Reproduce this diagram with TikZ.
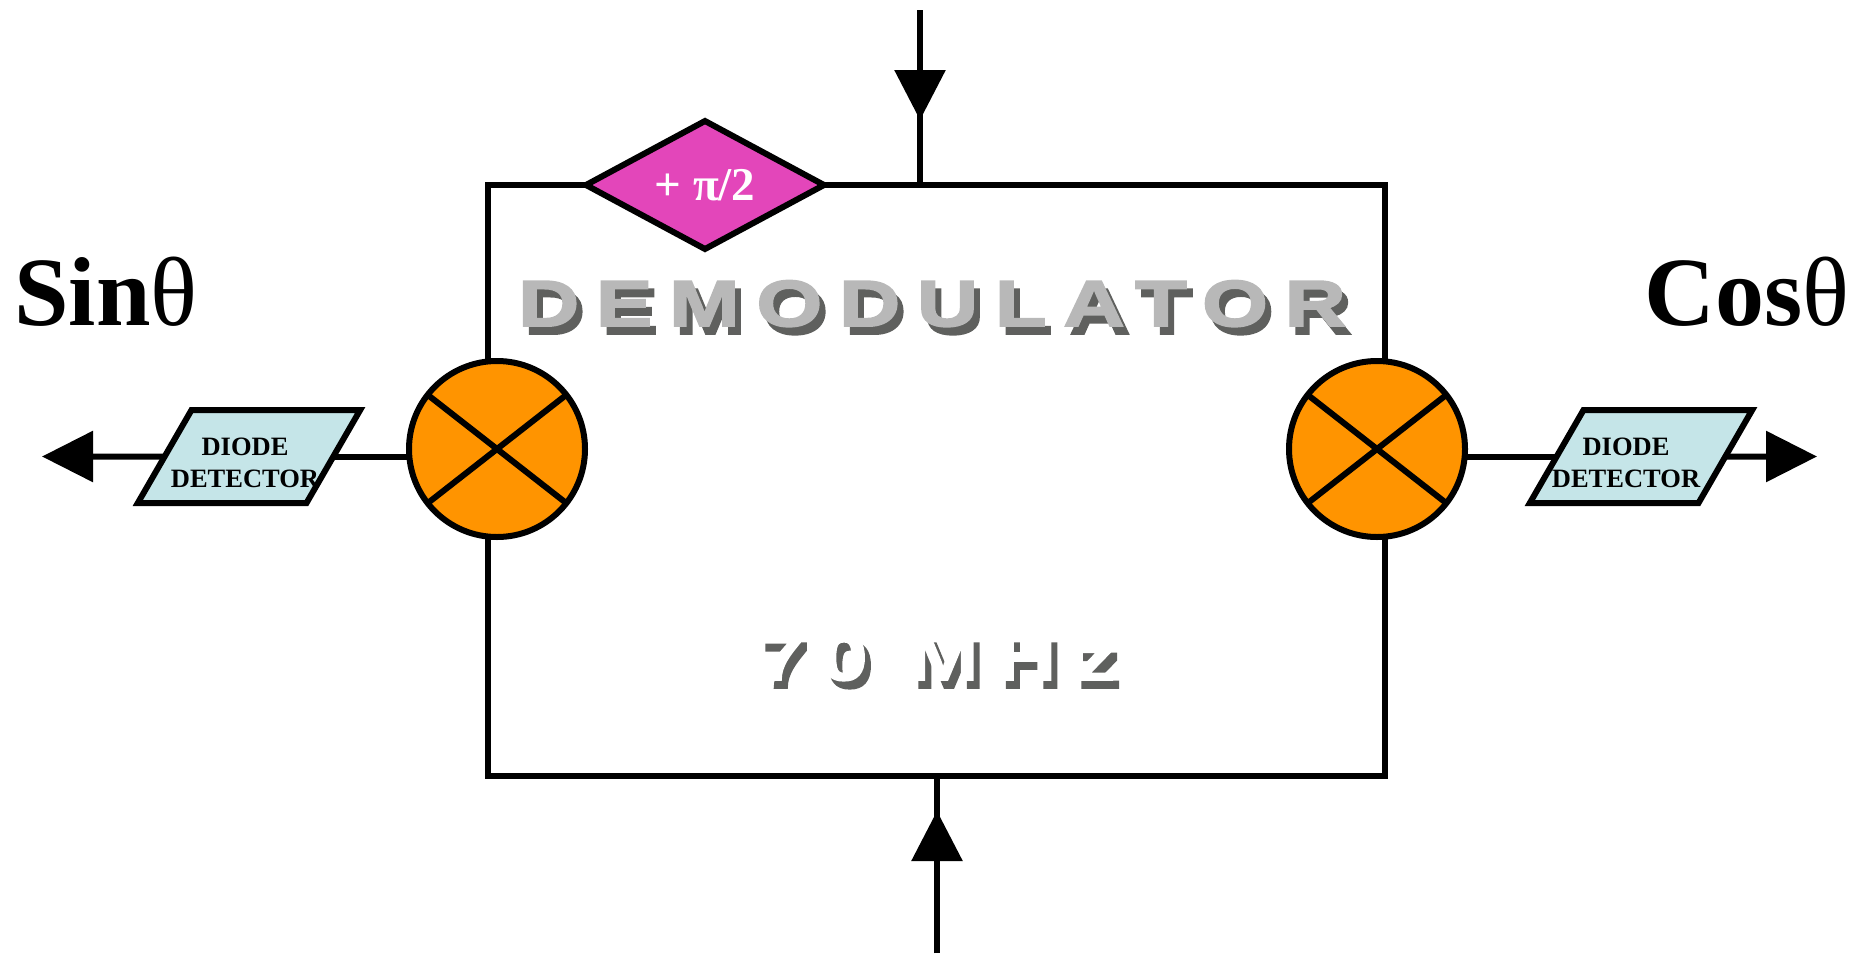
\documentclass[tikz,border=0pt]{standalone}
\usepackage{fontspec}
\setmainfont{Liberation Serif}
\newfontfamily\wordfont[FakeStretch=1.3,FakeBold=3,LetterSpace=26]{Liberation Sans Bold}
\usetikzlibrary{calc,arrows.meta,shapes.geometric}
\definecolor{mixorange}{HTML}{FF9400}
\definecolor{phasepink}{HTML}{E346BA}
\definecolor{detblue}{HTML}{C5E5E8}
\definecolor{wordgray}{HTML}{B8B8B8}
\definecolor{shadowgray}{HTML}{5F605E}
\newcommand{\detbody}{\phantom{\rule{115pt}{93pt}}}

\begin{document}
\begin{tikzpicture}[
		x=1pt, y=-1pt,
		wire/.style={line width=6pt},
		headwire/.style={line width=6pt, -{Triangle[length=50pt,width=50pt]}},
		sidehead/.style={line width=6pt, -{Triangle[length=51pt,width=50pt]}},
		mixer/.style={circle,draw,fill=mixorange,line width=6pt,minimum size=176pt,inner sep=0pt,outer sep=0pt},
		phasebox/.style={diamond,draw,fill=phasepink,line width=6pt,aspect=1.85,minimum width=238pt,minimum height=128pt,inner sep=0pt,outer sep=0pt,text=white,font=\bfseries\fontsize{47}{47}\selectfont},
		detector/.style={trapezium,trapezium left angle=60,trapezium right angle=120,draw,fill=detblue,line width=6pt,inner sep=0pt,outer sep=0pt},
		dettext/.style={align=center,font=\bfseries\fontsize{26.5}{32}\selectfont},
		sidetext/.style={anchor=base,font=\bfseries\fontsize{98}{98}\selectfont},
		bigword/.style={anchor=base,font=\wordfont\fontsize{65}{65}\selectfont}
		]
		\useasboundingbox (0,0) rectangle (1867,953);

		\coordinate (boxTL) at (488,185);
		\coordinate (boxTR) at (1385,185);
		\coordinate (boxBL) at (488,776);
		\coordinate (boxBR) at (1385,776);

		\node[mixer](mixL) at (497,449){};
		\node[mixer](mixR) at (1377,449){};
		\node[phasebox](phase) at (705,185){+ π/2};
		\node[detector](detL) at (249,456.5){\detbody};
		\node[detector](detR) at (1641,456.5){\detbody};
		\node[dettext](txtL) at (245,463){DIODE\\DETECTOR};
		\node[dettext](txtR) at (1626,463){DIODE\\DETECTOR};

		\node[sidetext](sinT) at (106,325){Sin\textmd{θ}};
		\node[sidetext](cosT) at (1747,325){Cos\textmd{θ}};

		\node[bigword,text=shadowgray](demoS) at (938,334){DEMODULATOR};
		\node[bigword,text=wordgray] (demoT) at ([shift={(-6,-8)}]demoS.base){DEMODULATOR};
		\node[bigword,text=shadowgray](mhzS) at (942,688){70 MHz};
		\node[bigword,text=white] (mhzT) at ([shift={(-6,-8)}]mhzS.base){70 MHz};

		\draw[wire] (boxTL |- mixL.north) -- (boxTL) -- (phase.west);
		\draw[wire] (phase.east) -- (boxTR) -- (boxTR |- mixR.north);
		\draw[wire] (boxTL |- mixL.south) -- (boxBL) -- (boxBR) -- (boxBR |- mixR.south);

		\draw[wire] (mixL.142) -- (mixL.322);
		\draw[wire] (mixL.38) -- (mixL.218);
		\draw[wire] (mixR.142) -- (mixR.322);
		\draw[wire] (mixR.38) -- (mixR.218);

		\coordinate (topIn) at (920,10);
		\coordinate (topTip) at (920,120);
		\coordinate (botIn) at (937,953);
		\coordinate (botTip) at (937,811);
		\coordinate (outL) at (42,456.5);
		\coordinate (outR) at (1817,456.5);

		\draw[wire] (topIn) -- (topIn |- boxTL);
		\draw[headwire] (topIn) -- (topTip);
		\draw[wire] (botIn) -- (botIn |- boxBL);
		\draw[headwire] (botIn) -- (botTip);

		\draw[wire] (detL.east) -- (detL.east -| mixL.west);
		\draw[sidehead] (detL.west) -- (outL);
		\draw[wire] (mixR.east |- detR.west) -- (detR.west);
		\draw[sidehead] (detR.east) -- (outR);
	\end{tikzpicture}
\end{document}
